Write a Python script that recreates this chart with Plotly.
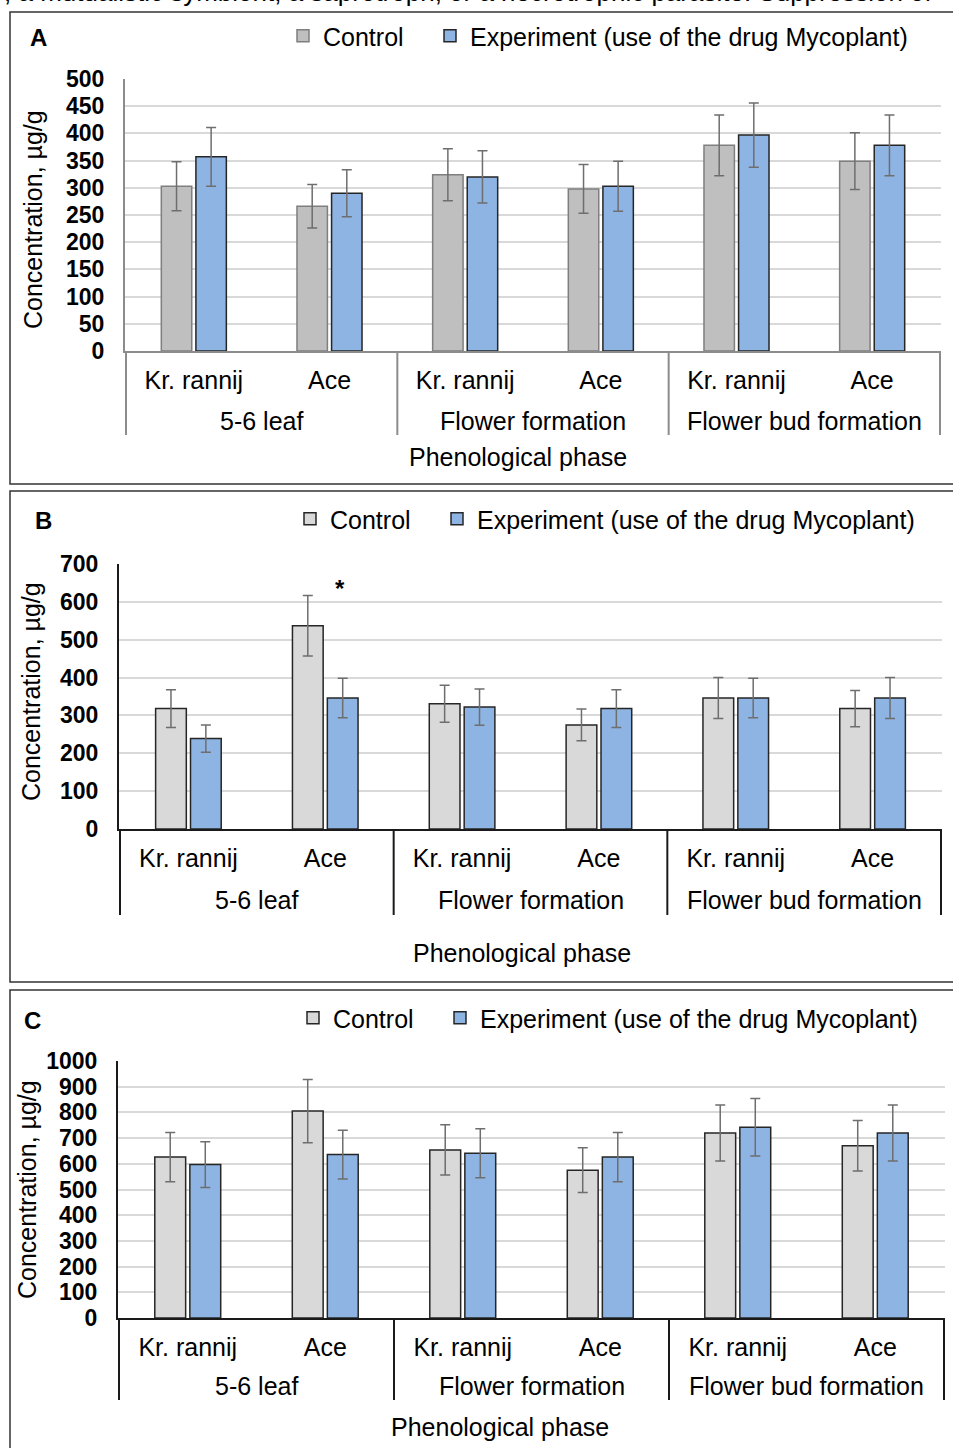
import plotly.graph_objects as go

# ---- data -------------------------------------------------------------
phases = ["5-6 leaf", "Flower formation", "Flower bud formation"]
varieties = ["Kr. rannij", "Ace"]

# Panel A
a_control = [303, 266, 324, 298, 378, 349]
a_control_err = [45, 40, 48, 45, 56, 52]
a_experiment = [357, 290, 320, 303, 397, 378]
a_experiment_err = [54, 43, 48, 46, 59, 56]

# Panel B
b_control = [318, 537, 331, 275, 346, 318]
b_control_err = [50, 80, 49, 42, 54, 48]
b_experiment = [239, 346, 322, 318, 346, 346]
b_experiment_err = [36, 52, 48, 50, 52, 54]

# Panel C
c_control = [626, 805, 654, 575, 720, 670]
c_control_err = [96, 123, 98, 87, 109, 98]
c_experiment = [597, 636, 641, 626, 742, 720]
c_experiment_err = [89, 95, 95, 96, 112, 109]

series_names = ["Control", "Experiment (use of the drug Mycoplant)"]
y_title = "Concentration, µg/g"
x_title = "Phenological phase"
header_text = ", a mutualistic symbiont, a saprotroph, or a necrotrophic parasite. Suppression of"

# ---- layout helpers ---------------------------------------------------
W, H = 953, 1448
FONT = "Arial, Liberation Sans, sans-serif"
TXT = dict(family=FONT, size=25, color="#000000")
TICK = dict(family=FONT, size=23, color="#000000", weight="bold")


def fx(px):
    return px / W


def fy(px):
    return 1 - px / H


# one category per (phase, variety) pair; only the variety is printed as tick text
categories = ["%s | %s" % (p, v) for p in phases for v in varieties]
tick_text = [v for _ in phases for v in varieties]
n_var = len(varieties)
group_centers = [k * n_var + (n_var - 1) / 2 for k in range(len(phases))]
group_edges = [k * n_var - 0.5 for k in range(len(phases) + 1)]

panels = [
    dict(letter="A", ymax=500, dtick=50,
         control=a_control, control_err=a_control_err,
         exp=a_experiment, exp_err=a_experiment_err,
         box=(125, 941, 79, 351), frame=(10, 12, 484),
         axis_color="#8C8C8C", ctrl_fill="#BFBFBF", ctrl_line="#7F7F7F",
         letter_pos=(38, 37), legend_item_x=283, legend_y=36,
         phase_dy=70, divider_dy=84, xtitle_pos=(518, 457), ytitle_pos=(33, 220)),
    dict(letter="B", ymax=700, dtick=100,
         control=b_control, control_err=b_control_err,
         exp=b_experiment, exp_err=b_experiment_err,
         box=(119, 942, 564, 829), frame=(10, 491, 982),
         axis_color="#1A1A1A", ctrl_fill="#D9D9D9", ctrl_line="#262626",
         letter_pos=(43, 520), legend_item_x=290, legend_y=519,
         phase_dy=71, divider_dy=86, xtitle_pos=(522, 953), ytitle_pos=(31, 692)),
    dict(letter="C", ymax=1000, dtick=100,
         control=c_control, control_err=c_control_err,
         exp=c_experiment, exp_err=c_experiment_err,
         box=(118, 945, 1061, 1318), frame=(10, 990, 1470),
         axis_color="#1A1A1A", ctrl_fill="#D9D9D9", ctrl_line="#262626",
         letter_pos=(32, 1020), legend_item_x=293, legend_y=1018,
         phase_dy=68, divider_dy=82, xtitle_pos=(500, 1427), ytitle_pos=(27, 1190)),
]

fig = go.Figure()
shapes = []
annotations = []
layout_extra = {}

for i, p in enumerate(panels):
    n = "" if i == 0 else str(i + 1)
    xa, ya = "x" + n, "y" + n
    legend_id = "legend" + n

    fig.add_trace(go.Bar(
        x=categories, y=p["control"], name=series_names[0],
        xaxis=xa, yaxis=ya, legend=legend_id, legendwidth=102,
        marker=dict(color=p["ctrl_fill"], line=dict(color=p["ctrl_line"], width=1.5)),
        error_y=dict(type="data", array=p["control_err"], color="#6E6E6E", thickness=1.5, width=5),
    ))
    fig.add_trace(go.Bar(
        x=categories, y=p["exp"], name=series_names[1],
        xaxis=xa, yaxis=ya, legend=legend_id,
        marker=dict(color="#8EB4E3", line=dict(color="#262626", width=1.5)),
        error_y=dict(type="data", array=p["exp_err"], color="#6E6E6E", thickness=1.5, width=5),
    ))

    left, right, top, bottom = p["box"]
    layout_extra["xaxis" + n] = dict(
        type="category", domain=[fx(left), fx(right)], anchor=ya,
        categoryorder="array", categoryarray=categories,
        tickvals=categories, ticktext=tick_text,
        showline=True, linecolor=p["axis_color"], linewidth=2,
        ticks="", ticklabelstandoff=6, tickfont=TXT, showgrid=False,
    )
    layout_extra["yaxis" + n] = dict(
        domain=[fy(bottom), fy(top)], anchor=xa,
        range=[0, p["ymax"]], dtick=p["dtick"], tick0=0,
        showline=True, linecolor=p["axis_color"], linewidth=2,
        showgrid=True, gridcolor="#D9D9D9", gridwidth=1.5, zeroline=False,
        ticks="", ticklabelstandoff=14, tickfont=TICK,
    )

    # phase labels and the group dividers under the category axis
    for c, ph in zip(group_centers, phases):
        annotations.append(dict(text=ph, xref=xa, yref="paper", x=c,
                                y=fy(bottom + p["phase_dy"]), xanchor="center",
                                yanchor="middle", showarrow=False, font=TXT))
    for e in group_edges:
        shapes.append(dict(type="line", xref=xa, yref="paper", x0=e, x1=e,
                           y0=fy(bottom), y1=fy(bottom + p["divider_dy"]),
                           line=dict(color=p["axis_color"], width=2)))

    # axis titles
    tx, ty = p["xtitle_pos"]
    annotations.append(dict(text=x_title, xref="paper", yref="paper", x=fx(tx), y=fy(ty),
                            xanchor="center", yanchor="middle", showarrow=False, font=TXT))
    tx, ty = p["ytitle_pos"]
    annotations.append(dict(text=y_title, xref="paper", yref="paper", x=fx(tx), y=fy(ty),
                            xanchor="center", yanchor="middle", textangle=-90,
                            showarrow=False, font=TXT))

    # panel frame
    fl, ft, fb = p["frame"]
    shapes.append(dict(type="rect", xref="paper", yref="paper",
                       x0=fx(fl), x1=fx(W + 10), y0=fy(fb), y1=fy(ft),
                       line=dict(color="#333333", width=1.5), fillcolor="rgba(0,0,0,0)",
                       layer="below"))

    lx, ly = p["letter_pos"]
    annotations.append(dict(text="<b>%s</b>" % p["letter"], xref="paper", yref="paper",
                            x=fx(lx), y=fy(ly), xanchor="center", yanchor="middle",
                            showarrow=False, font=dict(family=FONT, size=24, color="#000000")))

    layout_extra[legend_id] = dict(
        orientation="h", x=fx(p["legend_item_x"]), y=fy(p["legend_y"]),
        xanchor="left", yanchor="middle", xref="paper", yref="paper",
        bgcolor="rgba(0,0,0,0)", borderwidth=0, font=TXT, traceorder="normal",
    )

# significance mark over the Ace pair at the 5-6 leaf stage in panel B
annotations.append(dict(text="<b>*</b>", xref="x2", yref="y2", x=1, y=636, xshift=15,
                        showarrow=False, font=dict(family=FONT, size=24, color="#000000")))

# running text line above the figure
annotations.append(dict(text=header_text, xref="paper", yref="paper", x=fx(2), y=fy(9),
                        xanchor="left", yanchor="bottom", showarrow=False,
                        font=dict(family=FONT, size=26, color="#000000")))

fig.update_layout(
    width=W, height=H,
    margin=dict(l=0, r=0, t=0, b=0, autoexpand=False),
    paper_bgcolor="#FFFFFF", plot_bgcolor="rgba(0,0,0,0)",
    barmode="group", bargap=0.49, bargroupgap=0.12,
    shapes=shapes, annotations=annotations,
    font=TXT,
    **layout_extra,
)

fig.write_html("out.html")
